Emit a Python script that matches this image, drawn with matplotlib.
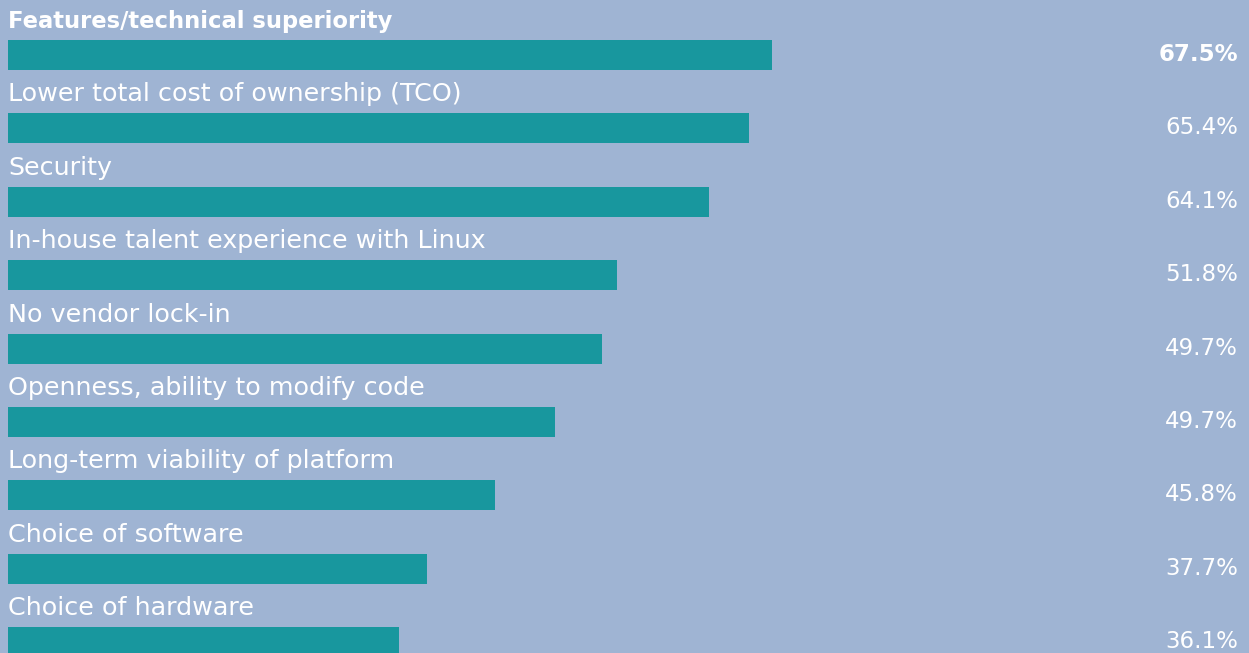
import matplotlib
matplotlib.use("Agg")
import matplotlib.pyplot as plt
import matplotlib.transforms as mtransforms

categories = [
    "Features/technical superiority",
    "Lower total cost of ownership (TCO)",
    "Security",
    "In-house talent experience with Linux",
    "No vendor lock-in",
    "Openness, ability to modify code",
    "Long-term viability of platform",
    "Choice of software",
    "Choice of hardware",
]
# bar lengths as drawn in the picture (percent units)
bar_values = [67.5, 65.5, 61.9, 53.8, 52.5, 48.3, 43.0, 37.0, 34.5]
# printed value labels
value_labels = ["67.5%", "65.4%", "64.1%", "51.8%", "49.7%", "49.7%", "45.8%", "37.7%", "36.1%"]

BG = "#9FB4D3"
BAR = "#18979E"
W, H = 1249, 653
px_per_unit = 11.32
row_px = 73.4
first_center = 55
bar_h_px = 30
left_px = 8

fig = plt.figure(figsize=(W / 100, H / 100), dpi=100, facecolor=BG)
ax = fig.add_axes([0, 0, 1, 1], facecolor=BG)
ax.set_xlim(-left_px / px_per_unit, (W - left_px) / px_per_unit)
ax.set_ylim((H - first_center) / row_px, -first_center / row_px)
ax.axis("off")

bh = bar_h_px / row_px
ys = list(range(len(categories)))
ax.barh(ys, bar_values, height=bh, color=BAR, left=0)

font = ["DejaVu Sans"]
trans = mtransforms.blended_transform_factory(ax.transAxes, ax.transData)
for i, (cat, lab) in enumerate(zip(categories, value_labels)):
    bold = i == 0
    ax.text(0.1 / px_per_unit, i - bh / 2 - 12 / row_px, cat, color="white",
            fontsize=16.3 if bold else 18.3, fontweight="bold" if bold else "normal",
            va="baseline", ha="left", family=font)
    ax.text(1238 / W, i + bh / 2 - 9 / row_px, lab, color="white",
            fontsize=16.5, fontweight="bold" if bold else "normal",
            va="baseline", ha="right", transform=trans, family=font)

fig.savefig("out.png", dpi=100, facecolor=BG)
